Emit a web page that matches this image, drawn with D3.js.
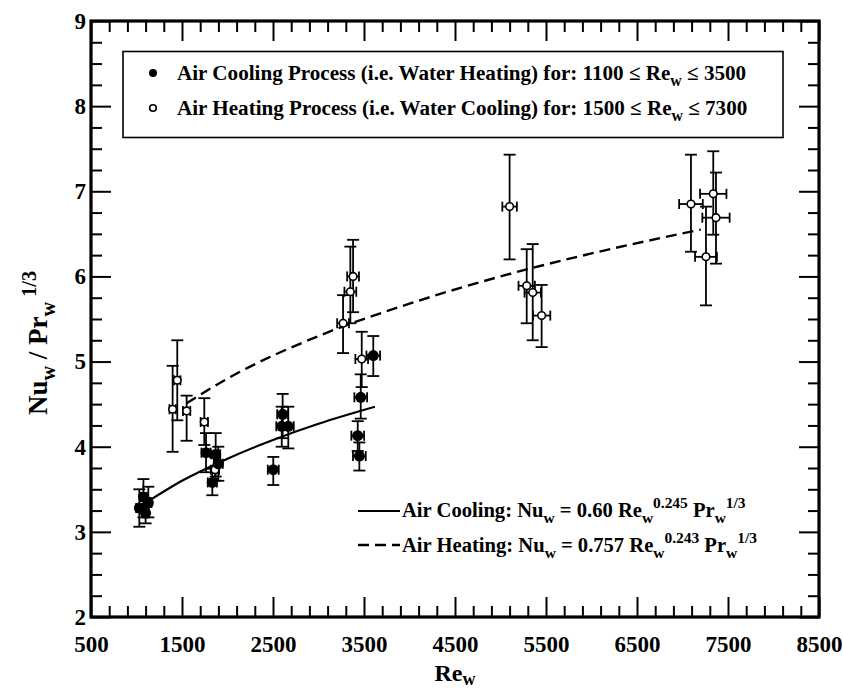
<!DOCTYPE html>
<html><head><meta charset="utf-8">
<script src="https://cdn.jsdelivr.net/npm/d3@7"></script>
<style>
body{margin:0;background:#fff;}
svg text{font-family:"Liberation Serif","Times New Roman",serif;font-weight:bold;fill:#000;}
</style></head>
<body><svg id="c" width="843" height="691"></svg>
<script>
// ---------- data ----------
const xTickValues = [500,1500,2500,3500,4500,5500,6500,7500,8500];
const yTickValues = [2,3,4,5,6,7,8,9];

// Air cooling (filled points)
const coolRe   = [1031,1076,1100,1130,1764,1870,1899,1833,2503,2606,2596,2668,3464,3431,3449,3602];
const coolNu   = [3.28,3.41,3.22,3.34,3.93,3.91,3.80,3.58,3.73,4.38,4.24,4.24,4.58,4.13,3.89,5.07];
const coolLo   = [3.06,3.17,3.10,3.17,3.70,3.65,3.60,3.43,3.55,4.10,4.00,3.98,4.33,3.95,3.72,4.83];
const coolHi   = [3.50,3.62,3.40,3.53,4.16,4.16,4.00,3.74,3.88,4.62,4.47,4.47,4.85,4.30,4.05,5.30];
const coolXerr = [35,35,35,35,50,50,50,50,60,60,60,60,70,70,70,75];

// Air heating (open points)
const heatRe   = [1397,1448,1551,1745,1863,3270,3350,3380,3475,5100,5288,5354,5452,7093,7338,7368,7258];
const heatNu   = [4.44,4.78,4.42,4.29,3.73,5.45,5.82,6.00,5.03,6.82,5.89,5.81,5.54,6.85,6.97,6.69,6.23];
const heatLo   = [3.94,4.31,4.07,4.02,3.60,5.10,5.45,5.58,4.70,6.20,5.45,5.25,5.17,6.29,6.49,6.15,5.66];
const heatHi   = [4.95,5.25,4.60,4.57,3.88,5.78,6.35,6.43,5.35,7.43,6.32,6.38,5.90,7.43,7.47,7.22,6.82];
const heatXerr = [35,35,40,40,45,65,65,65,70,80,90,90,95,130,145,150,120];

// Correlation curves
const coolFitRe = [1100,1500,2000,2500,3000,3620];
const coolFitNu = [3.34,3.60,3.86,4.08,4.27,4.47];
const heatFitRe = [1550,2000,3000,4000,5000,6000,7200];
const heatFitNu = [4.51,4.80,5.30,5.68,6.00,6.27,6.55];

const legendLabels = [
  [{t:"Air Cooling Process (i.e. Water Heating) for: 1100 \u2264 Re"},{t:"w",sub:1},{t:" \u2264 3500"}],
  [{t:"Air Heating Process (i.e. Water Cooling) for: 1500 \u2264 Re"},{t:"w",sub:1},{t:" \u2264 7300"}]
];
const eqLabels = [
  [{t:"Air Cooling: Nu"},{t:"w",sub:1},{t:" = 0.60 Re"},{t:"w",sub:1},{t:"0.245",sup:1},{t:" Pr"},{t:"w",sub:1},{t:"1/3",sup:1}],
  [{t:"Air Heating: Nu"},{t:"w",sub:1},{t:" = 0.757 Re"},{t:"w",sub:1},{t:"0.243",sup:1},{t:" Pr"},{t:"w",sub:1},{t:"1/3",sup:1}]
];

// ---------- layout ----------
const L=91,R=819,T=21,B=617;
const svg = d3.select("#c");
const x = d3.scaleLinear().domain([500,8500]).range([L,R]);
const y = d3.scaleLinear().domain([2,9]).range([B,T]);

function richText(sel, segs, size, subK){
  const sk = subK===undefined ? 0.28 : subK;
  let state = 0;
  segs.forEach((s)=>{
    const ts = sel.append("tspan").text(s.t);
    const target = s.sub ? size*sk : (s.sup ? -size*0.42 : 0);
    ts.attr("dy", target - state);
    state = target;
    if (s.sub||s.sup) ts.attr("font-size", size*0.75);
  });
}

const minorX = d3.range(500,8501,200).filter(v=>!xTickValues.includes(v));
const minorY = d3.range(2,9.001,0.25).filter(v=>Math.abs(v-Math.round(v))>1e-6);
function styleAxis(g){ g.select(".domain").remove(); g.selectAll("line").attr("stroke","#000").attr("stroke-width",2); }
function styleText(g){ g.selectAll("text").attr("font-size",23).attr("font-family",null); g.attr("font-family",null); }

svg.append("g").attr("transform",`translate(0,${B})`)
  .call(d3.axisBottom(x).tickValues(xTickValues).tickSizeInner(-20).tickSizeOuter(0).tickPadding(19).tickFormat(d3.format("d")))
  .call(styleAxis).call(styleText);
svg.append("g").attr("transform",`translate(0,${B})`)
  .call(d3.axisBottom(x).tickValues(minorX).tickSizeInner(-11).tickSizeOuter(0).tickFormat(""))
  .call(styleAxis);
svg.append("g").attr("transform",`translate(0,${T})`)
  .call(d3.axisTop(x).tickValues(xTickValues).tickSizeInner(-20).tickSizeOuter(0).tickFormat(""))
  .call(styleAxis);
svg.append("g").attr("transform",`translate(0,${T})`)
  .call(d3.axisTop(x).tickValues(minorX).tickSizeInner(-11).tickSizeOuter(0).tickFormat(""))
  .call(styleAxis);
svg.append("g").attr("transform",`translate(${L},0)`)
  .call(d3.axisLeft(y).tickValues(yTickValues).tickSizeInner(-20).tickSizeOuter(0).tickPadding(5).tickFormat(d3.format("d")))
  .call(styleAxis).call(styleText);
svg.append("g").attr("transform",`translate(${L},0)`)
  .call(d3.axisLeft(y).tickValues(minorY).tickSizeInner(-11).tickSizeOuter(0).tickFormat(""))
  .call(styleAxis);
svg.append("g").attr("transform",`translate(${R},0)`)
  .call(d3.axisRight(y).tickValues(yTickValues).tickSizeInner(-20).tickSizeOuter(0).tickFormat(""))
  .call(styleAxis);
svg.append("g").attr("transform",`translate(${R},0)`)
  .call(d3.axisRight(y).tickValues(minorY).tickSizeInner(-11).tickSizeOuter(0).tickFormat(""))
  .call(styleAxis);

// frame
svg.append("rect").attr("x",L).attr("y",T).attr("width",R-L).attr("height",B-T)
  .attr("fill","none").attr("stroke","#000").attr("stroke-width",3.2);

// fit curves
const line = d3.line().x(d=>x(d[0])).y(d=>y(d[1])).curve(d3.curveMonotoneX);
svg.append("path").attr("d",line(d3.zip(coolFitRe,coolFitNu)))
  .attr("fill","none").attr("stroke","#000").attr("stroke-width",2.2);
svg.append("path").attr("d",line(d3.zip(heatFitRe,heatFitNu)))
  .attr("fill","none").attr("stroke","#000").attr("stroke-width",2.4).attr("stroke-dasharray","11,6");

// error bars
function errorBars(Re,Nu,Lo,Hi,Xe){
  const g = svg.append("g").attr("stroke","#000").attr("stroke-width",1.8).attr("fill","none");
  Re.forEach((r,i)=>{
    const cx=x(r), cy=y(Nu[i]);
    const yl=y(Lo[i]), yh=y(Hi[i]);
    g.append("line").attr("x1",cx).attr("x2",cx).attr("y1",yl).attr("y2",yh);
    g.append("line").attr("x1",cx-6).attr("x2",cx+6).attr("y1",yl).attr("y2",yl);
    g.append("line").attr("x1",cx-6).attr("x2",cx+6).attr("y1",yh).attr("y2",yh);
    const xl=x(r-Xe[i]), xh=x(r+Xe[i]);
    g.append("line").attr("x1",xl).attr("x2",xh).attr("y1",cy).attr("y2",cy);
    g.append("line").attr("x1",xl).attr("x2",xl).attr("y1",cy-5).attr("y2",cy+5);
    g.append("line").attr("x1",xh).attr("x2",xh).attr("y1",cy-5).attr("y2",cy+5);
  });
}
errorBars(coolRe,coolNu,coolLo,coolHi,coolXerr);
errorBars(heatRe,heatNu,heatLo,heatHi,heatXerr);

// markers
svg.append("g").selectAll("circle").data(d3.range(heatRe.length)).join("circle")
  .attr("cx",i=>x(heatRe[i])).attr("cy",i=>y(heatNu[i])).attr("r",3.8)
  .attr("fill","#fff").attr("stroke","#000").attr("stroke-width",1.6);
svg.append("g").selectAll("circle").data(d3.range(coolRe.length)).join("circle")
  .attr("cx",i=>x(coolRe[i])).attr("cy",i=>y(coolNu[i])).attr("r",5.5)
  .attr("fill","#000");

// legend box
svg.append("rect").attr("x",123).attr("y",51.5).attr("width",660).attr("height",86)
  .attr("fill","#fff").attr("stroke","#000").attr("stroke-width",1.6);
svg.append("circle").attr("cx",153).attr("cy",73).attr("r",4).attr("fill","#000");
svg.append("circle").attr("cx",153).attr("cy",108).attr("r",3.3).attr("fill","#fff").attr("stroke","#000").attr("stroke-width",1.6);
const lg1 = svg.append("text").attr("x",177).attr("y",80).attr("font-size",21.1);
richText(lg1, legendLabels[0], 21.1);
const lg2 = svg.append("text").attr("x",177).attr("y",115).attr("font-size",21.1);
richText(lg2, legendLabels[1], 21.1);

// equation legend
svg.append("line").attr("x1",358).attr("x2",400).attr("y1",511).attr("y2",511).attr("stroke","#000").attr("stroke-width",2.2);
svg.append("line").attr("x1",358).attr("x2",400).attr("y1",545).attr("y2",545).attr("stroke","#000").attr("stroke-width",2.4).attr("stroke-dasharray","11,6");
const eq1 = svg.append("text").attr("x",402).attr("y",517).attr("font-size",20.6);
richText(eq1, eqLabels[0], 20.6);
const eq2 = svg.append("text").attr("x",402).attr("y",552).attr("font-size",20.6);
richText(eq2, eqLabels[1], 20.6);

// axis titles
const yt = svg.append("text").attr("transform","translate(47,343) rotate(-90)").attr("text-anchor","middle").attr("font-size",27);
richText(yt, [{t:"Nu"},{t:"w",sub:1},{t:" / Pr"},{t:"w",sub:1},{t:" 1/3",sup:1}], 27);
const xt = svg.append("text").attr("x",455).attr("y",681).attr("text-anchor","middle").attr("font-size",24);
richText(xt, [{t:"Re"},{t:"w",sub:1}], 24, 0.15);
</script></body></html>
